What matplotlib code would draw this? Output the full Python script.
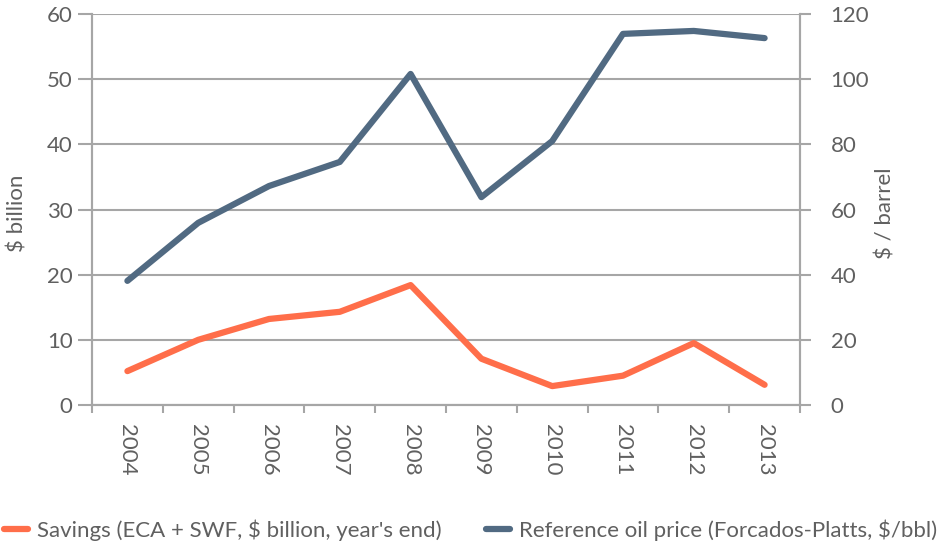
import matplotlib
matplotlib.use("Agg")
import matplotlib.pyplot as plt
import numpy as np

years = ["2004", "2005", "2006", "2007", "2008", "2009", "2010", "2011", "2012", "2013"]
savings = [5.2, 10.0, 13.2, 14.3, 18.4, 7.1, 2.9, 4.5, 9.5, 3.1]
oil_price = [38.1, 55.9, 67.2, 74.6, 101.6, 63.8, 81.0, 113.9, 114.8, 112.6]

plt.rcParams['font.family'] = ['Lato', 'DejaVu Sans']
txt = '#606060'
grid = '#A6A6A6'
orange = '#FF6E4A'
blue = '#516A82'
fs = 16

fig = plt.figure(figsize=(9.41, 5.5), dpi=100)
ax = fig.add_axes([92/941, 1-405/550, (800-92)/941, (405-14)/550])
ax2 = ax.twinx()

x = np.arange(len(years))
l1, = ax.plot(x, savings, color=orange, lw=4.5, solid_capstyle='round', solid_joinstyle='round', zorder=3)
l2, = ax2.plot(x, oil_price, color=blue, lw=4.5, solid_capstyle='round', solid_joinstyle='round', zorder=3)

ax.set_xlim(-0.5, len(years) - 0.5)
ax.set_ylim(0, 60)
ax2.set_ylim(0, 120)
ax.set_yticks(np.arange(0, 61, 10))
ax2.set_yticks(np.arange(0, 121, 20))
ax.yaxis.grid(True, color=grid, lw=1.5)
ax.set_axisbelow(True)

ax.set_xticks(x)
ax.set_xticklabels(years, rotation=-90, fontsize=fs, color=txt)
ax.set_xticks(np.arange(-0.5, len(years)), minor=True)
ax.tick_params(axis='x', which='major', length=0, pad=14)
ax.tick_params(axis='x', which='minor', length=6, width=1.5, color=grid, direction='out')

for a in (ax, ax2):
    for s in a.spines.values():
        s.set_color(grid)
        s.set_linewidth(1.5)
    a.spines['top'].set_visible(False)

ax.tick_params(axis='y', length=10, width=1.5, color=grid, labelsize=fs, labelcolor=txt, pad=4)
ax2.tick_params(axis='y', length=8, width=1.5, color=grid, labelsize=fs, labelcolor=txt, pad=14)

ax.set_ylabel("$ billion", fontsize=fs, color=txt)
ax2.set_ylabel("$ / barrel", fontsize=fs, color=txt)
ax.yaxis.set_label_coords((18 - 92) / 708, 1 - (213 - 14) / 391)
ax.yaxis.label.set_va('center')
ax2.yaxis.set_label_coords((885 - 92) / 708, 1 - (213 - 14) / 391)
ax2.yaxis.label.set_va('center')

fig.legend([l1, l2], ["Savings (ECA + SWF, $ billion, year's end)",
                      "Reference oil price (Forcados-Platts, $/bbl)"],
           loc='center', bbox_to_anchor=(0.5, 1-530/550), ncol=2, frameon=False,
           fontsize=fs, labelcolor=txt, handlelength=1.1, handletextpad=0.4,
           columnspacing=2.0)

fig.savefig("out.png", dpi=100)
